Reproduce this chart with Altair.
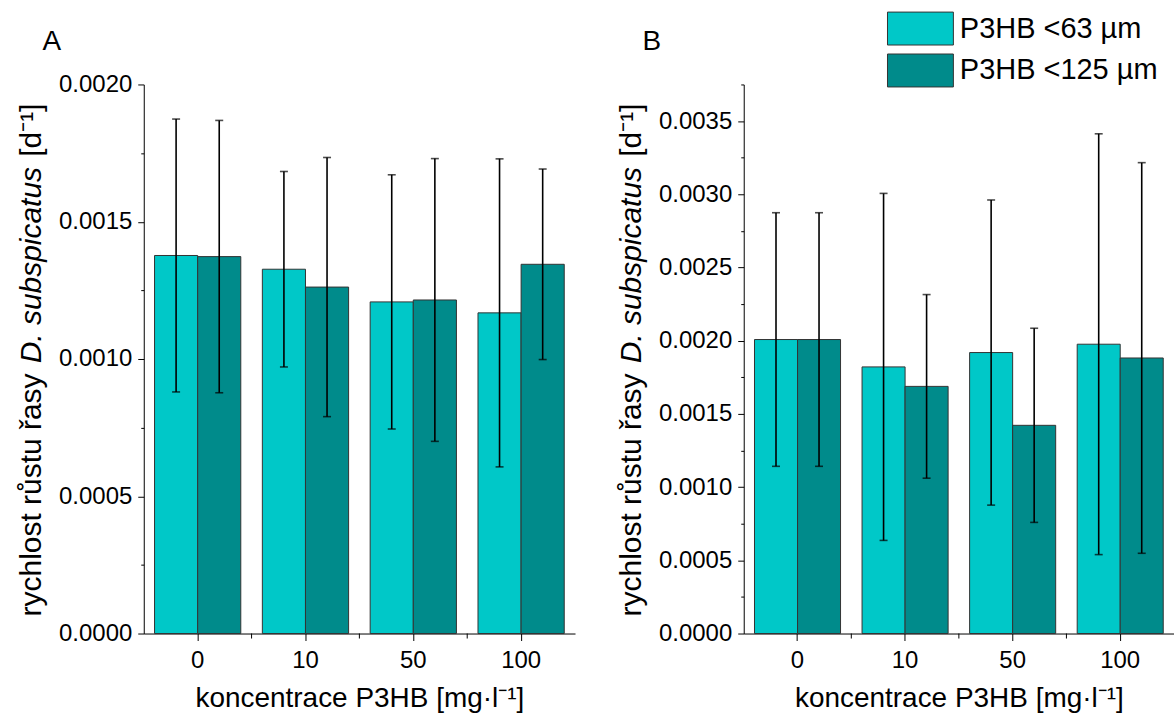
import altair as alt
import pandas as pd

categories = ["0", "10", "50", "100"]
series_names = ["P3HB <63 µm", "P3HB <125 µm"]
colors = ["#00C8C8", "#008B8B"]

# Panel A: mean and standard deviation
a_mean_63 = [0.001377, 0.001327, 0.001208, 0.001168]
a_sd_63 = [0.000497, 0.000356, 0.000463, 0.000561]
a_mean_125 = [0.001373, 0.001262, 0.001215, 0.001345]
a_sd_125 = [0.000496, 0.000472, 0.000515, 0.000347]

# Panel B
b_mean_63 = [0.002008, 0.001821, 0.001919, 0.001976]
b_sd_63 = [0.000866, 0.001185, 0.001042, 0.001437]
b_mean_125 = [0.002008, 0.001688, 0.001422, 0.001882]
b_sd_125 = [0.000866, 0.000627, 0.000663, 0.001334]

FONT = "Liberation Sans"
W, H = 432, 550
TITLE_FS = 28
YT_FS = 30


def make_df(m63, s63, m125, s125):
    rows = []
    for i, c in enumerate(categories):
        for s, m, sd in ((series_names[0], m63[i], s63[i]), (series_names[1], m125[i], s125[i])):
            rows.append({"conc": c, "series": s, "mean": m, "lo": m - sd, "hi": m + sd})
    return pd.DataFrame(rows)


def text_layer(txt, x, y, align, italic=False, size=YT_FS, angle=270):
    kw = dict(font=FONT, fontSize=size, align=align, baseline="middle", color="black")
    if angle:
        kw["angle"] = angle
    if italic:
        kw["fontStyle"] = "italic"
    return alt.Chart(pd.DataFrame({"t": [txt]})).mark_text(**kw).encode(
        text="t:N", x=alt.value(x), y=alt.value(y)
    )


def panel(df, ymax, letter, legend, width):
    step = 0.00025
    n = int(round(ymax / step))
    ticks = [round(i * step, 6) for i in range(n + 1)]
    minor = "round(datum.value*100000) % 50 != 0"
    xaxis = alt.Axis(
        title="koncentrace P3HB [mg·l⁻¹]", labelAngle=0, tickSize=7, labelPadding=8,
        titlePadding=12, titleFontSize=TITLE_FS, titleFontWeight="normal", labelFontSize=24,
    )
    xscale = alt.Scale(paddingInner=0.2, paddingOuter=0.1)
    x = alt.X("conc:N", sort=categories, scale=xscale, axis=xaxis)
    xo = alt.XOffset("series:N", sort=series_names)
    yscale = alt.Scale(domain=[0, ymax], nice=False, zero=True)
    yaxis = alt.Axis(
        title=None, values=ticks, labelFontSize=24, labelPadding=6,
        labelExpr=f"{minor} ? '' : format(datum.value, '.4f')",
        tickSize={"condition": {"test": minor, "value": 3}, "value": 6},
    )
    color = alt.Color("series:N", sort=series_names,
                      scale=alt.Scale(domain=series_names, range=colors), legend=legend)
    base = alt.Chart(df)
    bars = base.mark_bar(stroke="#333333", strokeWidth=1).encode(
        x=x, xOffset=xo, y=alt.Y("mean:Q", scale=yscale, axis=yaxis), color=color)
    err = base.mark_rule(color="black", strokeWidth=1.6).encode(
        x=x, xOffset=xo, y=alt.Y("lo:Q", scale=yscale, axis=yaxis), y2="hi:Q")
    cap_hi = base.mark_tick(color="black", thickness=1.6, size=8).encode(
        x=x, xOffset=xo, y=alt.Y("hi:Q", scale=yscale, axis=yaxis))
    cap_lo = base.mark_tick(color="black", thickness=1.6, size=8).encode(
        x=x, xOffset=xo, y=alt.Y("lo:Q", scale=yscale, axis=yaxis))
    minor_x = alt.Chart(pd.DataFrame({"conc": categories[1:]})).mark_rule(
        color="black", strokeWidth=1, xOffset=-0.1 * width / 4
    ).encode(x=alt.X("conc:N", sort=categories, scale=xscale, axis=xaxis, bandPosition=0),
             y=alt.value(H), y2=alt.value(H + 5))

    # y-axis title in three parts (species name in italics), with explicit gaps
    w2 = 201
    gap = 8
    yc2 = 181
    tx = -112
    t1 = text_layer("rychlost růstu řasy", tx, yc2 + w2 / 2 + gap, "right")
    t2 = text_layer("D. subspicatus", tx, yc2, "center", italic=True)
    t3 = text_layer("[d⁻¹]", tx, yc2 - w2 / 2 - gap, "left")
    let = text_layer(letter, -92, -43, "center", size=28, angle=0)
    return alt.layer(bars, err, cap_hi, cap_lo, minor_x, t1, t2, t3, let).properties(
        width=width, height=H)


legend_b = alt.Legend(
    title=None, orient="none", legendX=160, legendY=-73,
    symbolType="M-2,-1H2V1H-2Z", symbolSize=1089, symbolStrokeColor="#333333",
    symbolStrokeWidth=1, symbolOpacity=1, labelFontSize=29, labelFont=FONT,
    labelColor="black", labelOffset=22.5, rowPadding=4, padding=0, labelLimit=400,
)

chart_a = panel(make_df(a_mean_63, a_sd_63, a_mean_125, a_sd_125), 0.002, "A", None, W)
chart_b = panel(make_df(b_mean_63, b_sd_63, b_mean_125, b_sd_125), 0.00375, "B", legend_b, 431)

chart = alt.hconcat(chart_a, chart_b, spacing=42).resolve_scale(
    x="independent", y="independent", color="independent", xOffset="independent"
).properties(
    padding={"left": 17, "top": 11, "right": 0, "bottom": 0}
).configure_view(stroke=None).configure_axis(
    domainColor="black", tickColor="black", labelColor="black", titleColor="black",
    labelFont=FONT, titleFont=FONT, grid=False, domainWidth=1, tickWidth=1,
)

chart.save("out.html", embed_options={"renderer": "svg", "actions": False})
